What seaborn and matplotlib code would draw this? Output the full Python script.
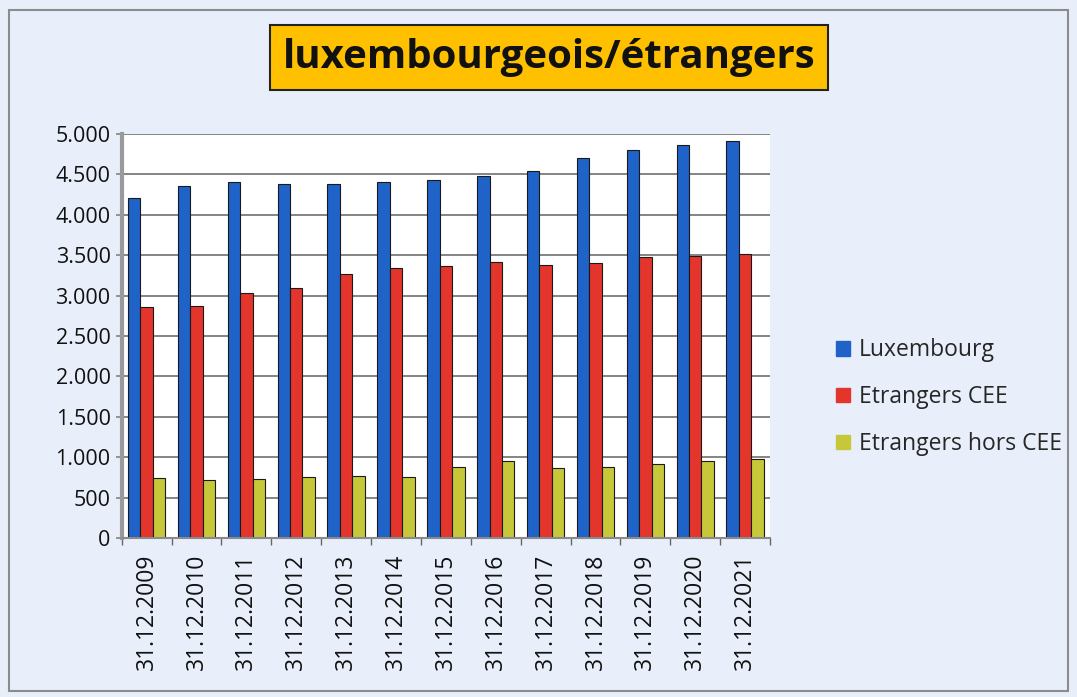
import numpy as np
import pandas as pd
import seaborn as sns
import matplotlib.pyplot as plt
from matplotlib.patches import Rectangle
from matplotlib.ticker import FuncFormatter, MultipleLocator

# ── Data ────────────────────────────────────────────────────────────────────
dates = ['31.12.2009', '31.12.2010', '31.12.2011', '31.12.2012', '31.12.2013',
         '31.12.2014', '31.12.2015', '31.12.2016', '31.12.2017', '31.12.2018',
         '31.12.2019', '31.12.2020', '31.12.2021']
luxembourg   = [4205, 4355, 4410, 4380, 4378, 4398, 4430, 4484, 4546, 4699, 4802, 4856, 4917]
etr_cee      = [2855, 2875, 3036, 3090, 3263, 3338, 3370, 3420, 3379, 3399, 3482, 3490, 3511]
etr_hors_cee = [739, 718, 730, 751, 767, 751, 875, 957, 862, 875, 916, 957, 978]
series_names = ['Luxembourg', 'Etrangers CEE', 'Etrangers hors CEE']
colors       = ['#1f62c8', '#e3352c', '#c6c83a']
# ────────────────────────────────────────────────────────────────────────────

df = pd.DataFrame({
    'date':  dates * 3,
    'value': luxembourg + etr_cee + etr_hors_cee,
    'serie': [s for s in series_names for _ in dates],
})

sns.set_theme(style='white')
plt.rcParams['font.family'] = ['Open Sans', 'DejaVu Sans']

BG = '#e9effa'
fig = plt.figure(figsize=(10.77, 6.97), dpi=100, facecolor=BG)
ax = fig.add_axes([0.113, 0.228, 0.602, 0.58])

sns.barplot(data=df, x='date', y='value', hue='serie', palette=colors,
            width=0.75, saturation=1, edgecolor='#1a1a1a', linewidth=0.8,
            ax=ax, legend=False)

ax.set_facecolor('white')
ax.set_xlim(-0.5, len(dates) - 0.5)
ax.set_ylim(0, 5000)
ax.yaxis.set_major_locator(MultipleLocator(500))
ax.yaxis.set_major_formatter(FuncFormatter(lambda v, _: f'{int(v):,}'.replace(',', '.')))
ax.grid(axis='y', color='#6f6f6f', linewidth=1.2)
ax.set_axisbelow(True)
ax.set_xlabel(''); ax.set_ylabel('')

for side in ['top', 'right']:
    ax.spines[side].set_visible(False)
ax.spines['left'].set_color('#9a9a9a'); ax.spines['left'].set_linewidth(3)
ax.spines['bottom'].set_color('#8a8a8a'); ax.spines['bottom'].set_linewidth(1.5)

# ticks between the categories on x, small outward ticks on y
ax.set_xticks(range(len(dates)))
ax.set_xticklabels(dates, rotation=90, fontsize=16.5, color='#111111')
ax.set_xticks(np.arange(-0.5, len(dates)), minor=True)
ax.tick_params(axis='x', which='major', length=0, pad=11)
ax.tick_params(axis='x', which='minor', direction='out', length=5, color='#666666', bottom=True)
ax.tick_params(axis='y', direction='out', length=4, color='#888888', left=True,
               labelsize=15.5, labelcolor='#111111', pad=4)

# legend
handles = [Rectangle((0, 0), 1, 1, color=c) for c in colors]
fig.legend(handles, series_names, loc='center left', bbox_to_anchor=(0.757, 0.43),
           frameon=False, fontsize=16.5, handlelength=0.6, handleheight=0.6,
           handletextpad=0.4, labelspacing=1.0)

# title box
fig.text(0.51, 0.918, 'luxembourgeois/étrangers', ha='center', va='center',
         fontsize=29, fontweight='bold', color='#111111',
         bbox=dict(boxstyle='square,pad=0.32', facecolor='#ffc000', edgecolor='#222222', linewidth=1.5))

# outer frame
fig.patches.append(Rectangle((0.008, 0.008), 0.984, 0.978, transform=fig.transFigure,
                             fill=False, edgecolor='#8c8c8c', linewidth=1.5))

plt.savefig('out.png', dpi=100, facecolor=BG)
plt.close()
